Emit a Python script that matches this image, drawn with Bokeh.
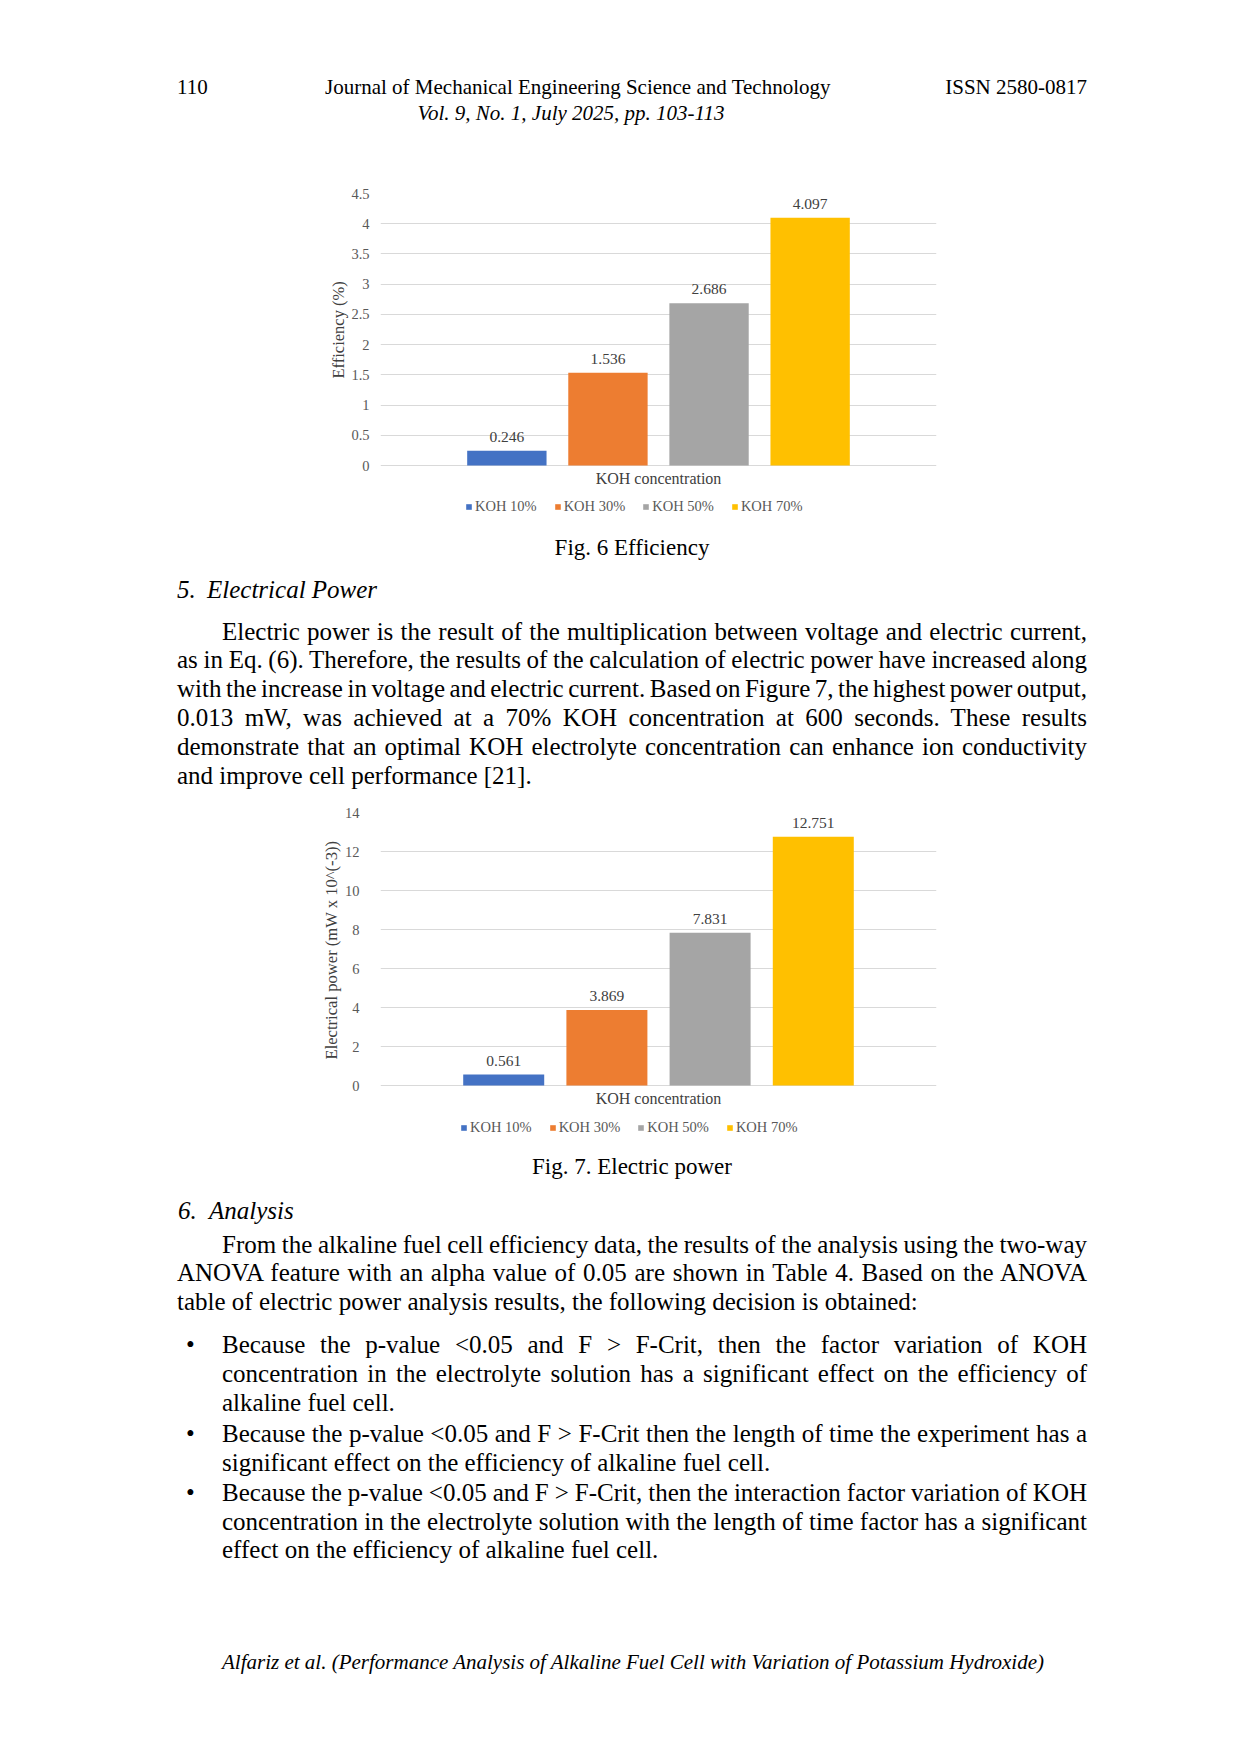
from bokeh.plotting import figure
from bokeh.models import (ColumnDataSource, FactorRange, Range1d, FixedTicker,
                          Legend, LegendItem, Label, Title, Div)
from bokeh.layouts import column
from bokeh.embed import file_html
from bokeh.resources import INLINE
from bokeh.core.properties import value
import html

# ---------------- data ----------------
series = ["KOH 10%", "KOH 30%", "KOH 50%", "KOH 70%"]
colors = ["#4472C4", "#ED7D31", "#A5A5A5", "#FFC000"]
efficiency = [0.246, 1.536, 2.686, 4.097]
power = [0.561, 3.869, 7.831, 12.751]
eff_ticks = [0, 0.5, 1, 1.5, 2, 2.5, 3, 3.5, 4, 4.5]
eff_tick_labels = ["0", "0.5", "1", "1.5", "2", "2.5", "3", "3.5", "4", "4.5"]
pow_ticks = [0, 2, 4, 6, 8, 10, 12, 14]
pow_tick_labels = ["0", "2", "4", "6", "8", "10", "12", "14"]
x_title = "KOH concentration"
eff_ylabel = "Efficiency (%)"
pow_ylabel = "Electrical power (mW x 10^(-3))"

FONT = "Liberation Serif"
PAGE_W = 1240


def make_chart(vals, ticks, tick_labels, ymax, ylabel, ylabel_size, height,
               b_top, zero_px, pad, maj_standoff, lab_standoff, lab_offset,
               legend_x, legend_y):
    """zero_px: pixels between the zero line and the bottom of the figure,
    where the x title and the legend are drawn."""
    src = ColumnDataSource(dict(cat=series, val=vals, color=colors,
                                lbl=[f"{v:.3f}" for v in vals]))
    plot_h = height - b_top - zero_px
    ymin = -ymax * zero_px / plot_h
    p = figure(width=PAGE_W, height=height,
               x_range=FactorRange(*series, range_padding=pad,
                                   range_padding_units="absolute"),
               y_range=Range1d(ymin, ymax), x_axis_type=None,
               output_backend="svg", toolbar_location=None,
               min_border_top=b_top, min_border_bottom=0,
               min_border_left=380, min_border_right=PAGE_W - 936)
    p.outline_line_color = None
    r = p.vbar(x="cat", top="val", width=0.785, source=src,
               fill_color="color", line_color=None)
    p.text(x="cat", y="val", text="lbl", source=src, text_align="center",
           text_baseline="bottom", y_offset=-9,
           text_font=value(FONT), text_font_size="15.5px", text_color="#404040")
    ax = p.yaxis[0]
    ax.ticker = FixedTicker(ticks=ticks)
    ax.major_label_overrides = {t: l for t, l in zip(ticks, tick_labels)}
    ax.axis_line_color = None
    ax.major_tick_line_color = None
    ax.minor_tick_line_color = None
    ax.major_tick_out = 0
    ax.major_tick_in = 0
    ax.major_label_standoff = maj_standoff
    ax.major_label_text_font = FONT
    ax.major_label_text_font_size = "14.5px"
    ax.major_label_text_color = "#595959"
    p.ygrid.grid_line_color = "#D9D9D9"
    p.ygrid.ticker = FixedTicker(ticks=ticks)

    # y title (left panel), aligned to the plotted value range
    p.add_layout(Title(text=ylabel, align="left", offset=lab_offset,
                       vertical_align="middle", standoff=lab_standoff,
                       text_font=FONT, text_font_style="normal",
                       text_font_size=f"{ylabel_size}px",
                       text_color="#404040"), "left")

    # x title under the zero line, centred on the category group
    p.add_layout(Label(x=len(series) / 2, y=0, text=x_title,
                       text_align="center", text_baseline="middle",
                       y_offset=-13, text_font=FONT, text_font_size="16px",
                       text_color="#404040"))

    items = [LegendItem(label=s, renderers=[r], index=i)
             for i, s in enumerate(series)]
    lg = Legend(items=items, orientation="horizontal",
                location=(legend_x, legend_y),
                border_line_color=None, background_fill_alpha=0,
                glyph_width=7, glyph_height=7, label_standoff=3, spacing=17,
                padding=0, margin=0, label_height=18,
                label_text_font=FONT, label_text_font_size="14.5px",
                label_text_color="#595959")
    p.add_layout(lg)
    return p


# page y: 165..525, value range 193..465
fig1 = make_chart(efficiency, eff_ticks, eff_tick_labels, 4.5, eff_ylabel, 16.5,
                  360, 28, 60, 0.75, 11, 0, 147, 85, 10)
# page y: 790..1140, value range 812..1085
fig2 = make_chart(power, pow_ticks, pow_tick_labels, 14, pow_ylabel, 16.6,
                  350, 22, 55, 0.694, 21, 0, 81, 80, 4)

# ---------------- page text ----------------
LH = 29
RIGHT = 1087


def esc(s):
    return html.escape(s, quote=False)


def line(x, yc, s, top0, size=25, italic=False, mode="left", lh=LH):
    top = yc - lh / 2 - top0
    base = (f"position:absolute;top:{top:.1f}px;font-family:'{FONT}';"
            f"font-size:{size}px;line-height:{lh}px;color:#000;"
            f"font-style:{'italic' if italic else 'normal'};")
    if mode == "left":
        st = base + f"left:{x}px;white-space:nowrap;"
    elif mode == "center":
        st = base + f"left:{x - 450}px;width:900px;text-align:center;white-space:nowrap;"
    elif mode == "right":
        st = base + f"left:{x - 400}px;width:400px;text-align:right;white-space:nowrap;"
    else:  # justify
        st = base + (f"left:{x}px;width:{RIGHT - x}px;text-align:justify;"
                     f"text-align-last:justify;word-spacing:-4px;")
    return f'<div style="{st}">{esc(s)}</div>'


def block(parts, h):
    inner = "".join(parts)
    return Div(text=f'<div style="position:relative;width:{PAGE_W}px;height:{h}px;">{inner}</div>',
               width=PAGE_W, height=h, margin=0)


# top block: page y 0..165
t0 = 0
top_parts = [
    line(177, 87, "110", t0, size=21),
    line(325, 87, "Journal of Mechanical Engineering Science and Technology", t0, size=21),
    line(RIGHT, 87, "ISSN 2580-0817", t0, size=21, mode="right"),
    line(571, 113, "Vol. 9, No. 1, July 2025, pp. 103-113", t0, size=21, italic=True, mode="center"),
]
div_top = block(top_parts, 165)

# middle block: page y 525..790
t1 = 525
para5 = [
    (222, "Electric power is the result of the multiplication between voltage and electric current,", "justify"),
    (177, "as in Eq. (6). Therefore, the results of the calculation of electric power have increased along", "justify"),
    (177, "with the increase in voltage and electric current. Based on Figure 7, the highest power output,", "justify"),
    (177, "0.013 mW, was achieved at a 70% KOH concentration at 600 seconds. These results", "justify"),
    (177, "demonstrate that an optimal KOH electrolyte concentration can enhance ion conductivity", "justify"),
    (177, "and improve cell performance [21].", "left"),
]
mid_parts = [
    line(632, 547, "Fig. 6 Efficiency", t1, size=23, mode="center"),
    line(177, 589, "5.", t1, italic=True),
    line(207, 589, "Electrical Power", t1, italic=True),
]
for i, (x, s, m) in enumerate(para5):
    mid_parts.append(line(x, 631 + i * 28.8, s, t1, mode=m))
div_mid = block(mid_parts, 265)

# bottom block: page y 1140..1754
t2 = 1140
para6 = [
    (222, "From the alkaline fuel cell efficiency data, the results of the analysis using the two-way", "justify"),
    (177, "ANOVA feature with an alpha value of 0.05 are shown in Table 4. Based on the ANOVA", "justify"),
    (177, "table of electric power analysis results, the following decision is obtained:", "left"),
]
bullets = [
    [(1344, "Because the p-value <0.05 and F > F-Crit, then the factor variation of KOH", "justify"),
     (1373, "concentration in the electrolyte solution has a significant effect on the efficiency of", "justify"),
     (1402, "alkaline fuel cell.", "left")],
    [(1433, "Because the p-value <0.05 and F > F-Crit then the length of time the experiment has a", "justify"),
     (1462, "significant effect on the efficiency of alkaline fuel cell.", "left")],
    [(1492, "Because the p-value <0.05 and F > F-Crit, then the interaction factor variation of KOH", "justify"),
     (1521, "concentration in the electrolyte solution with the length of time factor has a significant", "justify"),
     (1549, "effect on the efficiency of alkaline fuel cell.", "left")],
]
bot_parts = [
    line(632, 1166, "Fig. 7. Electric power", t2, size=23, mode="center"),
    line(178, 1210, "6.", t2, italic=True),
    line(209, 1210, "Analysis", t2, italic=True),
]
for i, (x, s, m) in enumerate(para6):
    bot_parts.append(line(x, 1244.3 + i * 28.6, s, t2, mode=m))
for b in bullets:
    bot_parts.append(line(186, b[0][0], "\u2022", t2))
    for (y, s, m) in b:
        bot_parts.append(line(222, y, s, t2, mode=m))
bot_parts.append(line(633, 1662, "Alfariz et al. (Performance Analysis of Alkaline Fuel Cell with Variation of Potassium Hydroxide)",
                      t2, size=21, italic=True, mode="center"))
div_bot = block(bot_parts, 614)

page = column(div_top, fig1, div_mid, fig2, div_bot, spacing=0)

open("out.html", "w").write(file_html(page, INLINE))
